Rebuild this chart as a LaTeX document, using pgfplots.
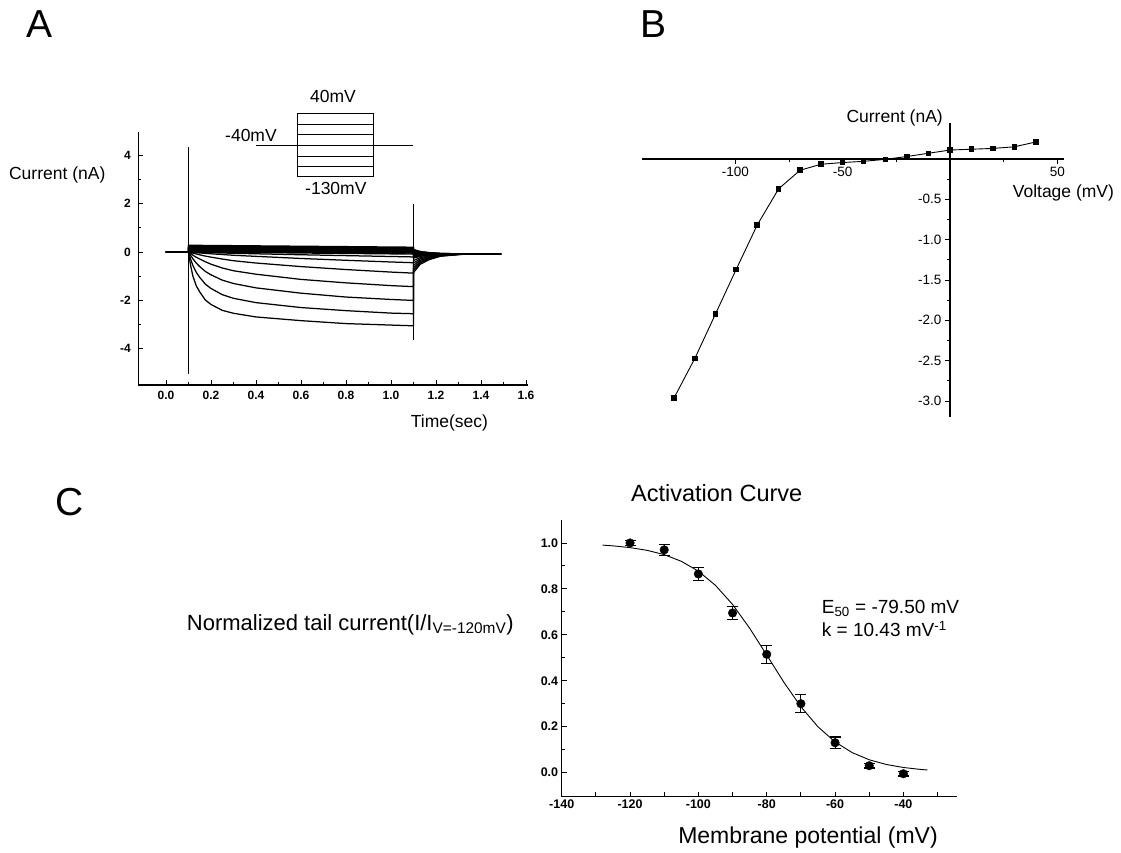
\documentclass[border=0pt]{standalone}
\usepackage{fontspec}
\setmainfont{Liberation Sans}
\usepackage{pgfplots}
\pgfplotsset{compat=1.18}
\newcommand{\fs}[1]{\fontsize{#1}{#1}\selectfont}

\pgfplotsset{
  panel/.style={scale only axis, anchor=south west, enlargelimits=false, clip=false,
    axis line style={-, line width=1.4pt},
    major tick length=5pt, minor tick length=3pt,
    tick style={line width=0.9pt, black}},
  tr/.style={black, line width=1.25pt},
  band/.style={black, line width=1.4pt},
}

\begin{document}
\begin{tikzpicture}
\path (0pt,0pt) rectangle (1121pt,852pt);

% ---------------- A: current traces
\begin{axis}[panel, at={(138.3pt,467pt)}, width=389.9pt, height=253pt,
  xmin=-0.123, xmax=1.61, ymin=-5.5, ymax=4.97,
  axis lines*=left, tick align=inside,
  xtick={0,0.2,0.4,0.6,0.8,1,1.2,1.4,1.6},
  xticklabels={0.0,0.2,0.4,0.6,0.8,1.0,1.2,1.4,1.6},
  ytick={-4,-2,0,2,4}, yticklabels={-4,-2,0,2,4},
  minor x tick num=1, minor y tick num=1,
  ticklabel style={font=\fs{12}\bfseries},
  xticklabel style={yshift=-3pt}, yticklabel style={xshift=-4pt}]
% near-zero band
\addplot[band] coordinates {(0,0)(0.1,0)(0.1,0.28)(1.1,0.20)(1.1,0.10)(1.13,0.019)(1.17,-0.026)(1.22,-0.058)(1.31,-0.076)(1.49,-0.08)};
\addplot[band] coordinates {(0,0)(0.1,0)(0.1,0.25)(1.1,0.17)(1.1,0.10)(1.13,0.019)(1.17,-0.026)(1.22,-0.058)(1.31,-0.076)(1.49,-0.08)};
\addplot[band] coordinates {(0,0)(0.1,0)(0.1,0.22)(1.1,0.14)(1.1,0.06)(1.13,-0.003)(1.17,-0.038)(1.22,-0.063)(1.31,-0.077)(1.49,-0.08)};
\addplot[band] coordinates {(0,0)(0.1,0)(0.1,0.19)(1.1,0.11)(1.1,0.03)(1.13,-0.02)(1.17,-0.047)(1.22,-0.067)(1.31,-0.078)(1.49,-0.08)};
\addplot[band] coordinates {(0,0)(0.1,0)(0.1,0.16)(1.1,0.08)(1.1,0.00)(1.13,-0.036)(1.17,-0.056)(1.22,-0.070)(1.31,-0.078)(1.49,-0.08)};
\addplot[band] coordinates {(0,0)(0.1,0)(0.1,0.13)(1.1,0.05)(1.1,-0.05)(1.13,-0.064)(1.17,-0.071)(1.22,-0.076)(1.31,-0.079)(1.49,-0.08)};
\addplot[band] coordinates {(0,0)(0.1,0)(0.1,0.10)(1.1,0.02)(1.1,-0.10)(1.13,-0.091)(1.17,-0.086)(1.22,-0.082)(1.31,-0.08)(1.49,-0.08)};
\addplot[band] coordinates {(0,0)(0.1,0)(0.1,0.07)(1.1,-0.01)(1.1,-0.15)(1.13,-0.119)(1.17,-0.101)(1.22,-0.088)(1.31,-0.081)(1.49,-0.08)};
\addplot[band] coordinates {(0,0)(0.1,0)(0.1,0.04)(1.1,-0.04)(1.1,-0.20)(1.13,-0.146)(1.17,-0.116)(1.22,-0.094)(1.31,-0.082)(1.49,-0.08)};
\addplot[band] coordinates {(0,0)(0.1,0)(0.1,0.01)(1.1,-0.08)(1.1,-0.20)(1.13,-0.146)(1.17,-0.116)(1.22,-0.094)(1.31,-0.082)(1.49,-0.08)};
% activating traces
\addplot[tr] coordinates {(0,0)(0.1,0)(0.3,-0.05)(0.6,-0.11)(1.1,-0.2)(1.1,-0.25)(1.13,-0.174)(1.17,-0.131)(1.22,-0.100)(1.31,-0.083)(1.49,-0.08)};
\addplot[tr] coordinates {(0,0)(0.1,0)(0.105,-0.002)(0.11,-0.004)(0.12,-0.013)(0.135,-0.022)(0.15,-0.035)(0.175,-0.053)(0.2,-0.07)(0.25,-0.101)(0.3,-0.132)(0.4,-0.176)(0.6,-0.264)(0.8,-0.339)(1.0,-0.409)(1.1,-0.44)(1.1,-0.35)(1.13,-0.229)(1.17,-0.161)(1.22,-0.112)(1.31,-0.085)(1.49,-0.08)};
\addplot[tr] coordinates {(0,0)(0.1,0)(0.105,-0.009)(0.11,-0.022)(0.12,-0.044)(0.135,-0.078)(0.15,-0.113)(0.175,-0.165)(0.2,-0.209)(0.25,-0.287)(0.3,-0.357)(0.4,-0.452)(0.6,-0.60)(0.8,-0.722)(1.0,-0.827)(1.1,-0.87)(1.1,-0.45)(1.13,-0.284)(1.17,-0.191)(1.22,-0.124)(1.31,-0.087)(1.49,-0.08)};
\addplot[tr] coordinates {(0,0)(0.1,0)(0.105,-0.029)(0.11,-0.057)(0.12,-0.129)(0.135,-0.215)(0.15,-0.286)(0.175,-0.40)(0.2,-0.50)(0.25,-0.658)(0.3,-0.772)(0.4,-0.915)(0.6,-1.13)(0.8,-1.273)(1.0,-1.387)(1.1,-1.43)(1.1,-0.55)(1.13,-0.339)(1.17,-0.221)(1.22,-0.136)(1.31,-0.089)(1.49,-0.08)};
\addplot[tr] coordinates {(0,0)(0.1,0)(0.105,-0.07)(0.11,-0.14)(0.12,-0.28)(0.135,-0.46)(0.15,-0.60)(0.175,-0.80)(0.2,-0.94)(0.25,-1.16)(0.3,-1.30)(0.4,-1.48)(0.6,-1.70)(0.8,-1.86)(1.0,-1.96)(1.1,-2.0)(1.1,-0.65)(1.13,-0.394)(1.17,-0.251)(1.22,-0.148)(1.31,-0.091)(1.49,-0.08)};
\addplot[tr] coordinates {(0,0)(0.1,0)(0.105,-0.153)(0.11,-0.306)(0.12,-0.561)(0.135,-0.842)(0.15,-1.046)(0.175,-1.326)(0.2,-1.505)(0.25,-1.76)(0.3,-1.913)(0.4,-2.091)(0.6,-2.295)(0.8,-2.423)(1.0,-2.525)(1.1,-2.55)(1.1,-0.75)(1.13,-0.449)(1.17,-0.281)(1.22,-0.160)(1.31,-0.093)(1.49,-0.08)};
\addplot[tr] coordinates {(0,0)(0.1,0)(0.105,-0.305)(0.11,-0.58)(0.12,-1.007)(0.135,-1.403)(0.15,-1.647)(0.175,-1.983)(0.2,-2.166)(0.25,-2.41)(0.3,-2.532)(0.4,-2.684)(0.6,-2.837)(0.8,-2.959)(1.0,-3.02)(1.1,-3.05)(1.1,-0.85)(1.13,-0.504)(1.17,-0.311)(1.22,-0.172)(1.31,-0.095)(1.49,-0.08)};
% capacitive transients
\addplot[tr] coordinates {(0.1,-5.03)(0.1,4.34)};
\addplot[tr] coordinates {(1.1,-3.63)(1.1,1.97)};
% voltage protocol inset
\addplot[black, line width=1pt] coordinates {(0.585,5.74)(0.924,5.74)(0.924,3.12)(0.585,3.12)(0.585,5.74)};
\addplot[black, line width=1pt] coordinates {(0.585,5.30)(0.924,5.30)};
\addplot[black, line width=1pt] coordinates {(0.585,4.86)(0.924,4.86)};
\addplot[black, line width=1pt] coordinates {(0.40,4.40)(1.096,4.40)};
\addplot[black, line width=1pt] coordinates {(0.585,3.97)(0.924,3.97)};
\addplot[black, line width=1pt] coordinates {(0.585,3.53)(0.924,3.53)};
\end{axis}

% ---------------- B: I-V relation
\begin{axis}[panel, at={(642.3pt,434.8pt)}, width=422.1pt, height=294.6pt,
  xmin=-143.3, xmax=53.3, ymin=-3.2, ymax=0.45,
  axis lines*=middle, tick align=outside,
  x axis line style={line width=1.8pt},
  xtick={-100,-50,0,50}, xticklabels={-100,-50,,50}, minor x tick num=1,
  ytick={-3,-2.5,-2,-1.5,-1,-0.5,0}, yticklabels={-3.0,-2.5,-2.0,-1.5,-1.0,-0.5,},
  minor y tick num=1,
  ticklabel style={font=\fs{13.5}}]
\addplot[black, mark=square*, mark size=2.3pt, line width=0.9pt] coordinates {
(-128.5,-2.96)(-118.8,-2.47)(-109.2,-1.92)(-99.6,-1.37)(-89.8,-0.82)(-79.8,-0.37)
(-69.8,-0.14)(-60,-0.066)(-50,-0.045)(-40.3,-0.03)(-30,-0.005)(-20,0.03)
(-10,0.07)(0,0.11)(10,0.12)(20,0.13)(30,0.15)(40,0.21)};
\end{axis}

% ---------------- C: activation curve
\begin{axis}[panel, at={(561.7pt,55.3pt)}, width=395pt, height=276.7pt,
  xmin=-140, xmax=-24.4, ymin=-0.105, ymax=1.1,
  axis lines*=left, tick align=inside,
  xtick={-140,-130,-120,-110,-100,-90,-80,-70,-60,-50,-40,-30},
  xticklabels={-140,,-120,,-100,,-80,,-60,,-40,},
  ytick={0,0.2,0.4,0.6,0.8,1}, yticklabels={0.0,0.2,0.4,0.6,0.8,1.0},
  minor y tick num=1,
  ticklabel style={font=\fs{12.5}\bfseries}]
\addplot[black, line width=0.9pt] coordinates {
(-128,0.9905)(-125,0.9874)(-120,0.9798)(-115,0.9678)(-110,0.9491)(-105,0.9202)
(-100,0.8771)(-95,0.8154)(-90,0.7324)(-85,0.6289)(-80,0.5120)(-75,0.3938)
(-70,0.2868)(-65,0.1994)(-60,0.1336)(-55,0.0871)(-50,0.0558)(-45,0.0353)
(-40,0.0222)(-35,0.0138)(-33,0.0114)};
\addplot[black, only marks, mark=*, mark size=4.3pt,
  error bars/.cd, y dir=both, y explicit,
  error bar style={line width=1.1pt},
  error mark options={rotate=90, mark size=5.5pt, line width=1.1pt}]
  table[x=v, y=n, y error=e] {
v n e
-120 1.0 0.01
-110 0.97 0.025
-100 0.865 0.03
-90 0.695 0.03
-80 0.515 0.04
-70 0.30 0.04
-60 0.13 0.025
-50 0.03 0.01
-40 -0.005 0.01
};
\end{axis}

% ---------------- texts
\node[inner sep=0] at (39.3pt,828pt) {\fs{39}A};
\node[inner sep=0] at (653.8pt,828pt) {\fs{39}B};
\node[inner sep=0] at (70pt,350pt) {\fs{39}C};

\node[inner sep=0, anchor=base west] at (8.9pt,672.5pt) {\fs{17.5}Current (nA)};
\node[inner sep=0, anchor=base west] at (410.7pt,424.5pt) {\fs{17.5}Time(sec)};
\node[inner sep=0, anchor=base] at (333pt,749pt) {\fs{17.5}40mV};
\node[inner sep=0, anchor=base west] at (225pt,710.3pt) {\fs{17.5}-40mV};
\node[inner sep=0, anchor=base west] at (305pt,657pt) {\fs{17.5}-130mV};

\node[inner sep=0, anchor=base east] at (943pt,729.5pt) {\fs{17.5}Current (nA)};
\node[inner sep=0, anchor=base west] at (1012.6pt,654.5pt) {\fs{17.5}Voltage (mV)};

\node[inner sep=0, anchor=base] at (716.7pt,350.3pt) {\fs{23.5}Activation Curve};
\node[inner sep=0, anchor=base west] at (821.7pt,238.7pt) {\fs{19}E\textsubscript{50} = -79.50 mV};
\node[inner sep=0, anchor=base west] at (821.7pt,215.3pt) {\fs{19}k = 10.43 mV\textsuperscript{-1}};
\node[inner sep=0, anchor=base] at (808pt,8.7pt) {\fs{23}Membrane potential (mV)};
\node[inner sep=0, anchor=base west] at (186.7pt,222pt) {\fs{22}Normalized tail current(I/I\textsubscript{V=-120mV})};
\end{tikzpicture}
\end{document}
